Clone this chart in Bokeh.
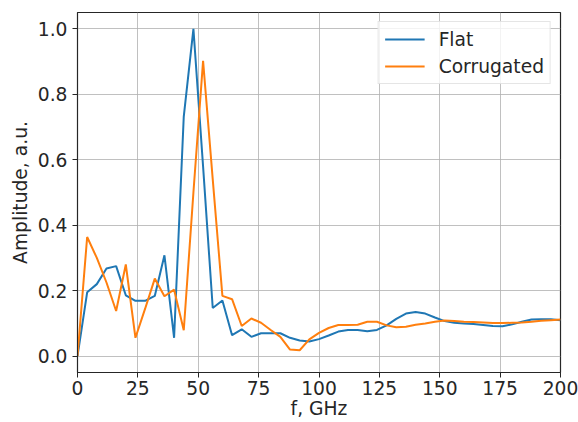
import numpy as np
from bokeh.plotting import figure
from bokeh.models import Range1d, FixedTicker, Legend, LegendItem
from bokeh.embed import file_html
from bokeh.resources import INLINE

freq = [i * 4 for i in range(51)]

flat = [0.0, 0.195, 0.22, 0.268, 0.275, 0.186, 0.169, 0.169, 0.184, 0.308,
        0.056, 0.732, 1.0, 0.58, 0.147, 0.17, 0.064, 0.082, 0.059, 0.07,
        0.07, 0.07, 0.056, 0.048, 0.045, 0.052, 0.063, 0.075, 0.08, 0.08,
        0.076, 0.08, 0.094, 0.114, 0.13, 0.135, 0.13, 0.118, 0.107, 0.102,
        0.1, 0.098, 0.095, 0.092, 0.091, 0.097, 0.105, 0.112, 0.113, 0.113,
        0.11]

corrugated = [0.0, 0.364, 0.30, 0.225, 0.138, 0.28, 0.056, 0.145, 0.237, 0.183,
              0.203, 0.079, 0.50, 0.902, 0.54, 0.184, 0.174, 0.092, 0.115, 0.102,
              0.08, 0.059, 0.02, 0.018, 0.051, 0.071, 0.086, 0.095, 0.095, 0.096,
              0.105, 0.105, 0.094, 0.088, 0.09, 0.096, 0.1, 0.105, 0.109, 0.107,
              0.105, 0.104, 0.103, 0.101, 0.101, 0.102, 0.103, 0.105, 0.108, 0.11,
              0.112]

x_ticks = [0, 25, 50, 75, 100, 125, 150, 175, 200]
y_ticks = [0.0, 0.2, 0.4, 0.6, 0.8, 1.0]
y_tick_labels = {0.0: "0.0", 0.2: "0.2", 0.4: "0.4", 0.6: "0.6", 0.8: "0.8", 1.0: "1.0"}

FONT = "DejaVu Sans"
FS = "18.7px"
TXT = "#262626"

p = figure(width=578, height=422, output_backend="svg", toolbar_location=None,
           x_range=Range1d(0, 200), y_range=Range1d(-0.05, 1.05))
p.min_border_left = 77
p.min_border_right = 18
p.min_border_top = 12
p.min_border_bottom = 50
p.background_fill_color = "white"
p.border_fill_color = "white"
p.outline_line_color = "#262626"
p.outline_line_width = 1.2

r1 = p.line(freq, flat, line_color="#1f77b4", line_width=2)
r2 = p.line(freq, corrugated, line_color="#ff7f0e", line_width=2)

for ax in (p.xaxis[0], p.yaxis[0]):
    ax.major_label_text_font = FONT
    ax.major_label_text_font_size = FS
    ax.major_label_text_color = TXT
    ax.axis_label_text_font = FONT
    ax.axis_label_text_font_size = FS
    ax.axis_label_text_color = TXT
    ax.axis_label_text_font_style = "normal"
    ax.axis_line_color = "#262626"
    ax.major_tick_line_color = "#262626"
    ax.major_tick_out = 5
    ax.major_tick_in = 0
    ax.minor_tick_line_color = None

p.xaxis.ticker = FixedTicker(ticks=x_ticks)
p.yaxis.ticker = FixedTicker(ticks=y_ticks)
p.yaxis.major_label_overrides = y_tick_labels
p.xaxis.axis_label = "f, GHz"
p.yaxis.axis_label = "Amplitude, a.u."
p.xaxis.major_label_standoff = 3
p.yaxis.major_label_standoff = 5
p.xaxis.axis_label_standoff = 0
p.yaxis.axis_label_standoff = 4

p.xgrid.ticker = FixedTicker(ticks=x_ticks)
p.ygrid.ticker = FixedTicker(ticks=y_ticks)
p.grid.grid_line_color = "#b0b0b0"
p.grid.grid_line_width = 1
p.grid.grid_line_alpha = 0.8

legend = Legend(items=[LegendItem(label="Flat", renderers=[r1]),
                       LegendItem(label="Corrugated", renderers=[r2])],
                location="top_right")
legend.label_text_font = FONT
legend.label_text_font_size = FS
legend.label_text_color = TXT
legend.border_line_color = "#cccccc"
legend.border_line_width = 1
legend.background_fill_alpha = 0.8
legend.glyph_width = 40
legend.glyph_height = 22
legend.label_height = 22
legend.label_standoff = 14
legend.spacing = 5
legend.padding = 6
legend.margin = 9
p.add_layout(legend)

open("out.html", "w").write(file_html(p, INLINE))
